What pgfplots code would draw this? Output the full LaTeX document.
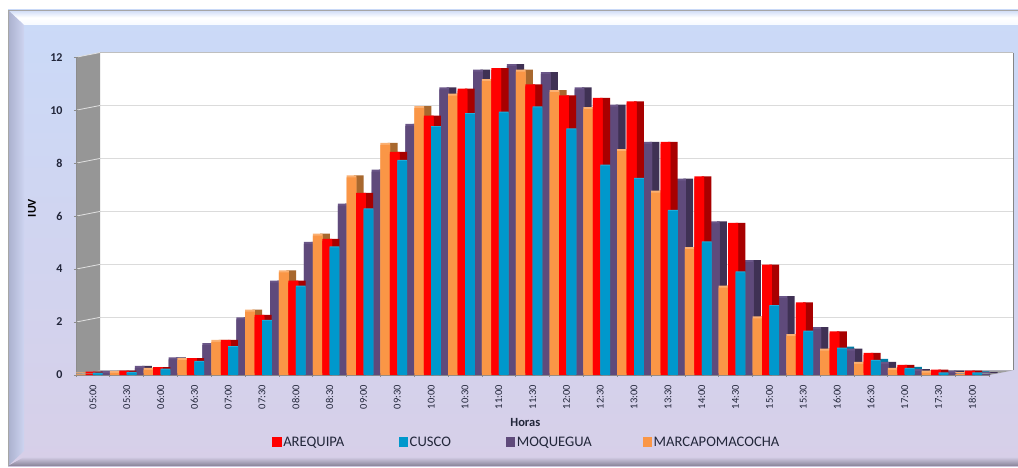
\documentclass[border=0pt]{standalone}
\usepackage{fontspec}
\setmainfont{Carlito}
\usepackage{pgfplots}
\usepackage{pgfplotstable}
\pgfplotsset{compat=1.18}

\definecolor{redF}{HTML}{FF0000}   \definecolor{redS}{HTML}{A80000}
\definecolor{bluF}{HTML}{0098CC}   \definecolor{bluS}{HTML}{007AA3}   \definecolor{bluT}{HTML}{1FB0DE}
\definecolor{purF}{HTML}{5F4A7B}   \definecolor{purS}{HTML}{3F3154}   \definecolor{purT}{HTML}{6A5688}
\definecolor{oraF}{HTML}{FA9646}   \definecolor{oraS}{HTML}{A8682E}   \definecolor{oraT}{HTML}{FBB072}
\definecolor{txt}{HTML}{22263A}

% k areq cusco moq marca
\pgfplotstableread{
k  areq   cusco  moq    marca
0  0.05   0.05   0.07   0.02
1  0.09   0.08   0.27   0.08
2  0.22   0.20   0.59   0.19
3  0.56   0.50   1.13   0.56
4  1.25   1.05   2.10   1.25
5  2.20   2.04   3.49   2.39
6  3.49   3.34   4.95   3.88
7  5.07   4.82   6.40   5.26
8  6.80   6.26   7.68   7.46
9  8.35   8.09   9.41   8.69
10 9.72   9.36   10.79  10.08
11 10.74  9.85   11.46  10.55
12 11.52  9.91   11.67  11.10
13 10.90  10.11  11.36  11.46
14 10.49  9.28   10.79  10.68
15 10.39  7.91   10.14  10.04
16 10.26  7.41   8.73   8.46
17 8.73   6.20   7.34   6.89
18 7.43   5.01   5.73   4.75
19 5.67   3.88   4.26   3.30
20 4.09   2.60   2.90   2.14
21 2.67   1.64   1.73   1.47
22 1.57   1.00   0.92   0.92
23 0.76   0.53   0.42   0.42
24 0.31   0.23   0.15   0.19
25 0.13   0.06   0.09   0.09
26 0.09   0.06   0.03   0.03
}\datos

\begin{document}
\begin{tikzpicture}[x=1pt,y=1pt]
\path[use as bounding box] (0,0) rectangle (1018,467);

% panel
\shade[top color={rgb,255:red,202;green,218;blue,248},bottom color={rgb,255:red,215;green,207;blue,232}] (8,1) rectangle (1018,457);
% bevels
\shade[top color={rgb,255:red,205;green,218;blue,246},bottom color={rgb,255:red,246;green,250;blue,255},middle color=white] (8,457) -- (1018,457) -- (1018,442) -- (24,442) -- cycle;
\shade[left color={rgb,255:red,170;green,176;blue,205},right color={rgb,255:red,205;green,212;blue,240}] (8,457) -- (24,442) -- (24,16) -- (8,1) -- cycle;
\shade[top color={rgb,255:red,212;green,205;blue,230},bottom color={rgb,255:red,135;green,130;blue,150}] (8,1) -- (24,10) -- (1018,10) -- (1018,1) -- cycle;
\draw[gray!70,line width=0.8pt] (8,1) -- (8,457) -- (1018,457);

% back wall, floor, left wall
\fill[white] (100,96.7) rectangle (1013.3,414.4);
\foreach \v in {2,4,...,10} \draw[black!14,line width=1.1pt] (100,96.7+26.48*\v) -- (1013.3,96.7+26.48*\v);
\draw[black!25,line width=1pt] (100,414.4) -- (1013.3,414.4);
\draw[black!48,line width=1.2pt] (1013.3,414.4) -- (1013.3,96.7);
\fill[black!38] (76,92) -- (100,96.7) -- (1013.3,96.7) -- (989.3,92) -- cycle;
\fill[black!41] (76,92) -- (100,96.7) -- (100,414.4) -- (76,409.7) -- cycle;
\foreach \v in {2,4,...,12} \draw[black!12,line width=0.8pt] (76,92+26.48*\v) -- (100,96.7+26.48*\v);

\begin{axis}[
    at={(76pt,92pt)},anchor=south west,
    scale only axis,
    width=913.3pt,height=317.7pt,
    xmin=-0.5,xmax=26.5,ymin=0,ymax=12,
    clip=false,
    axis x line=bottom,axis y line=left,
    axis line style={black!45,line width=0.8pt,-},
    tick style={black!45,line width=0.7pt},
    ytick={0,2,...,12},
    xtick=data,
    major x tick style={draw=none},
    minor xtick={-0.5,0.5,...,26.5},
    minor tick length=3.5pt,
    major tick length=4pt,
    xticklabels={05:00,05:30,06:00,06:30,07:00,07:30,08:00,08:30,09:00,09:30,10:00,10:30,11:00,11:30,12:00,12:30,13:00,13:30,14:00,14:30,15:00,15:30,16:00,16:30,17:00,17:30,18:00},
    x tick label style={rotate=90,anchor=east,font=\fontsize{10.5}{12}\selectfont,text=txt,xshift=-4.5pt},
    y tick label style={font=\fontsize{12}{13}\selectfont\bfseries,text=txt,xshift=-8pt},
    /pgf/number format/assume math mode=true,
    xlabel={\bfseries Horas},
    xlabel style={at={(axis description cs:0.492,-0.1495)},anchor=center,font=\fontsize{12.5}{14}\selectfont,text=txt},
    ylabel={\bfseries IUV},
    ylabel style={at={(axis description cs:-0.0482,0.5257)},anchor=center,rotate=0,font=\fontsize{12}{14}\selectfont,text=black},
    legend columns=4,
    legend cell align=left,
    legend style={at={(0.2148,-0.2115)},anchor=west,draw=none,fill=none,inner sep=0pt,
        font=\fontsize{14.6}{16}\selectfont,text=txt},
    legend image code/.code={\fill[#1] (0pt,-4pt) rectangle (8.5pt,4.5pt);},
    bar width=9.8pt,
]
\addlegendimage{redF}\addlegendentry{AREQUIPA\rule{52.5pt}{0pt}}
\addlegendimage{bluF}\addlegendentry{CUSCO\rule{53pt}{0pt}}
\addlegendimage{purF}\addlegendentry{MOQUEGUA\rule{49pt}{0pt}}
\addlegendimage{oraF}\addlegendentry{MARCAPOMACOCHA}

% cusco depth goes first, the next cluster's moquegua stands in front of it
\addplot[ybar,forget plot,draw=none,fill=bluS,bar shift=12.2pt,yshift=2pt] table[x=k,y=cusco] {\datos};
% moquegua
\addplot[ybar,forget plot,draw=none,fill=purS,bar shift=20.3pt,yshift=2pt] table[x=k,y=moq] {\datos};
\addplot[ybar,forget plot,draw=none,fill=purT,bar shift=13pt,yshift=2pt] table[x=k,y=moq] {\datos};
\addplot[ybar,forget plot,draw=none,fill=purF,bar shift=13pt] table[x=k,y=moq] {\datos};
% marcapomacocha
\addplot[ybar,forget plot,draw=none,fill=oraS,bar shift=-4.7pt,yshift=2pt] table[x=k,y=marca] {\datos};
\addplot[ybar,forget plot,draw=none,fill=oraT,bar shift=-12pt,yshift=2pt] table[x=k,y=marca] {\datos};
\addplot[ybar,forget plot,draw=none,fill=oraF,bar shift=-12pt] table[x=k,y=marca] {\datos};
% arequipa
\addplot[ybar,forget plot,draw=none,fill=redS,bar shift=4.8pt,yshift=2pt] table[x=k,y=areq] {\datos};
\addplot[ybar,forget plot,draw=none,fill=redF,bar shift=-2.5pt,yshift=2pt] table[x=k,y=areq] {\datos};
\addplot[ybar,forget plot,draw=none,fill=redF,bar shift=-2.5pt] table[x=k,y=areq] {\datos};
% cusco
\addplot[ybar,forget plot,draw=none,fill=bluT,bar shift=4.9pt,yshift=1pt] table[x=k,y=cusco] {\datos};
\addplot[ybar,forget plot,draw=none,fill=bluF,bar shift=4.9pt] table[x=k,y=cusco] {\datos};
\end{axis}
\end{tikzpicture}
\end{document}
